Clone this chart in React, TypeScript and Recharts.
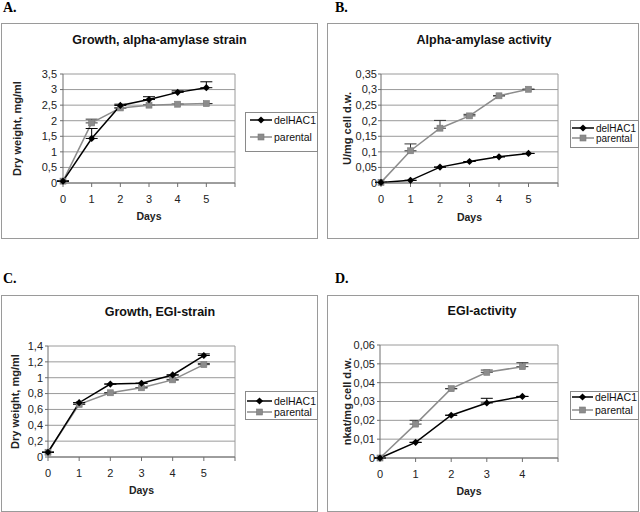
import { LineChart, Line, XAxis, YAxis, CartesianGrid, ReferenceLine, ErrorBar } from "recharts"

// days sampled
const days = [0, 1, 2, 3, 4, 5]
const daysEgi = [0, 1, 2, 3, 4]

// A. Growth, alpha-amylase strain (dry weight, mg/ml)
const growthAmyDel = [0.06, 1.43, 2.49, 2.68, 2.91, 3.06]
const growthAmyDelErr = [0, 0.32, 0.04, 0.09, 0.05, 0.19]
const growthAmyPar = [0.06, 1.93, 2.41, 2.5, 2.53, 2.55]
const growthAmyParErr = [0, 0.12, 0, 0, 0, 0]

// B. Alpha-amylase activity (U/mg cell d.w.)
const amyActDel = [0.002, 0.0085, 0.051, 0.069, 0.084, 0.095]
const amyActDelErr = [0, 0, 0, 0, 0, 0]
const amyActPar = [0.002, 0.1035, 0.176, 0.2155, 0.28, 0.301]
const amyActParErr = [0, 0.022, 0.025, 0.005, 0, 0]

// C. Growth, EGI-strain (dry weight, mg/ml)
const growthEgiDel = [0.06, 0.685, 0.92, 0.93, 1.035, 1.28]
const growthEgiDelErr = [0, 0, 0, 0, 0, 0.02]
const growthEgiPar = [0.06, 0.664, 0.81, 0.873, 0.973, 1.165]
const growthEgiParErr = [0, 0, 0, 0, 0, 0.015]

// D. EGI-activity (nkat/mg cell d.w.)
const egiActDel = [0, 0.0083, 0.0227, 0.0292, 0.0327]
const egiActDelErr = [0, 0, 0, 0.0025, 0]
const egiActPar = [0, 0.018, 0.0368, 0.0455, 0.0485]
const egiActParErr = [0, 0.002, 0, 0.0012, 0.0021]

// tick labels
const ticksA = [0, 0.5, 1, 1.5, 2, 2.5, 3, 3.5]
const ticksB = [0, 0.05, 0.1, 0.15, 0.2, 0.25, 0.3, 0.35]
const ticksC = [0, 0.2, 0.4, 0.6, 0.8, 1, 1.2, 1.4]
const ticksD = [0, 0.01, 0.02, 0.03, 0.04, 0.05, 0.06]
const seriesNames = ["delHAC1", "parental"]

const FONT = "'Liberation Sans', Arial, sans-serif"
const GRID = "#9a9a9a"
const AXIS = "#6e6e6e"
const DEL = "#000000"
const PAR = "#8c8c8c"

const build = (xs: number[], del: number[], delErr: number[], par: number[], parErr: number[]) =>
  xs.map((d, i) => ({ day: d, del: del[i], delErr: [0, delErr[i]], par: par[i], parErr: [0, parErr[i]] }))

const comma = (v: number) => String(v).replace(".", ",")

const diamond = (p: any) => {
  if (p.cx == null || p.cy == null) return <g key={p.index} />
  const r = 3.6
  return (
    <path
      key={p.index}
      d={`M${p.cx},${p.cy - r}L${p.cx + r},${p.cy}L${p.cx},${p.cy + r}L${p.cx - r},${p.cy}Z`}
      fill={DEL}
    />
  )
}

const square = (p: any) => {
  if (p.cx == null || p.cy == null) return <g key={p.index} />
  return <rect key={p.index} x={p.cx - 3} y={p.cy - 3} width={6} height={6} fill={PAR} stroke="#7a7a7a" strokeWidth={0.6} />
}

type Box = { x: number; y: number; w: number; h: number }
type Plot = { x0: number; y0: number; x1: number; y1: number }

type PanelProps = {
  data: any[]
  frame: Box
  plot: Plot
  xMax: number
  yTicks: number[]
  yLabel: string
  yLabelOffset: number
  axisH: number
  tickMargin: number
}

function Panel({ data, frame, plot, xMax, yTicks, yLabel, yLabelOffset, axisH, tickMargin }: PanelProps) {
  const xTicks = Array.from({ length: xMax + 1 }, (_, i) => i)
  return (
    <div style={{ position: "absolute", left: frame.x, top: frame.y }}>
      <LineChart
        width={frame.w}
        height={frame.h}
        data={data}
        margin={{
          top: plot.y0 - frame.y,
          left: 0,
          right: frame.x + frame.w - plot.x1,
          bottom: frame.y + frame.h - plot.y1 - axisH,
        }}
      >
        <CartesianGrid vertical={false} stroke={GRID} />
        <XAxis
          dataKey="day"
          type="number"
          domain={[0, xMax]}
          ticks={xTicks}
          tickFormatter={(v: number) => (v === xMax ? "" : String(v))}
          height={axisH}
          stroke={AXIS}
          tickSize={4}
          tickMargin={8}
          tick={{ fill: "#222", fontSize: 11, fontFamily: FONT }}
          label={{
            value: "Days",
            position: "insideBottom",
            offset: 0,
            style: { fontFamily: FONT, fontSize: 10.5, fontWeight: "bold", fill: "#222" },
          }}
        />
        <YAxis
          type="number"
          domain={[0, yTicks[yTicks.length - 1]]}
          ticks={yTicks}
          interval={0}
          tickFormatter={comma}
          width={plot.x0 - frame.x}
          stroke={AXIS}
          tickSize={3}
          tickMargin={tickMargin}
          tick={{ fill: "#222", fontSize: 11, fontFamily: FONT }}
          label={{
            value: yLabel,
            angle: -90,
            position: "insideLeft",
            offset: yLabelOffset,
            style: { textAnchor: "middle", fontFamily: FONT, fontSize: 11, fontWeight: "bold", fill: "#222" },
          }}
        />
        <ReferenceLine x={xMax} stroke={GRID} />
        <Line type="linear" dataKey="par" stroke={PAR} strokeWidth={1.5} dot={square} isAnimationActive={false}>
          <ErrorBar dataKey="parErr" width={6} stroke="#333" strokeWidth={1} direction="y" isAnimationActive={false} />
        </Line>
        <Line type="linear" dataKey="del" stroke={DEL} strokeWidth={1.5} dot={diamond} isAnimationActive={false}>
          <ErrorBar dataKey="delErr" width={6} stroke="#000" strokeWidth={1} direction="y" isAnimationActive={false} />
        </Line>
      </LineChart>
    </div>
  )
}

type LegendProps = { box: Box; rows: number[]; x0: number; x1: number; tx: number; fs: number }

function LegendBox({ box, rows, x0, x1, tx, fs }: LegendProps) {
  const mx = (x0 + x1) / 2
  return (
    <g>
      <rect x={box.x + 0.5} y={box.y + 0.5} width={box.w} height={box.h} fill="#fff" stroke="#8a8a8a" />
      <line x1={x0} x2={x1} y1={rows[0]} y2={rows[0]} stroke={DEL} strokeWidth={1.5} />
      {diamond({ cx: mx, cy: rows[0], index: "l0" })}
      <line x1={x0} x2={x1} y1={rows[1]} y2={rows[1]} stroke={PAR} strokeWidth={1.5} />
      {square({ cx: mx, cy: rows[1], index: "l1" })}
      {seriesNames.map((n, i) => (
        <text key={n} x={tx} y={rows[i] + fs * 0.36} fontSize={fs} fontFamily={FONT} fill="#111">
          {n}
        </text>
      ))}
    </g>
  )
}

const titleStyle = { fontFamily: FONT, fontSize: 12.5, fontWeight: "bold" as const, fill: "#111" }
const letterStyle = { fontFamily: "'Liberation Serif', 'Times New Roman', serif", fontSize: 14, fontWeight: "bold" as const, fill: "#000" }

export default function App() {
  const frameA = { x: 1, y: 23, w: 317, h: 216 }
  const frameB = { x: 327, y: 23, w: 312, h: 216 }
  const frameC = { x: 1, y: 295, w: 317, h: 217 }
  const frameD = { x: 327, y: 295, w: 312, h: 217 }

  return (
    <div style={{ position: "absolute", left: 0, top: 0, width: 640, height: 512, overflow: "hidden", background: "#fff" }}>
      <svg width={640} height={512} style={{ position: "absolute", left: 0, top: 0 }}>
        {[frameA, frameB, frameC, frameD].map((f, i) => (
          <rect key={i} x={f.x + 0.5} y={f.y + 0.5} width={f.w - 1} height={f.h - 1} fill="#fff" stroke="#9a9a9a" />
        ))}
      </svg>

      <Panel
        data={build(days, growthAmyDel, growthAmyDelErr, growthAmyPar, growthAmyParErr)}
        frame={frameA}
        plot={{ x0: 63, y0: 74, x1: 235, y1: 183 }}
        xMax={6}
        yTicks={ticksA}
        yLabel="Dry weight, mg/ml"
        yLabelOffset={16.5}
        axisH={37}
        tickMargin={3}
      />
      <Panel
        data={build(days, amyActDel, amyActDelErr, amyActPar, amyActParErr)}
        frame={frameB}
        plot={{ x0: 381, y0: 74, x1: 558, y1: 183 }}
        xMax={6}
        yTicks={ticksB}
        yLabel="U/mg cell d.w."
        yLabelOffset={20}
        axisH={38}
        tickMargin={1}
      />
      <Panel
        data={build(days, growthEgiDel, growthEgiDelErr, growthEgiPar, growthEgiParErr)}
        frame={frameC}
        plot={{ x0: 48, y0: 346, x1: 235, y1: 457 }}
        xMax={6}
        yTicks={ticksC}
        yLabel="Dry weight, mg/ml"
        yLabelOffset={14}
        axisH={37}
        tickMargin={2}
      />
      <Panel
        data={build(daysEgi, egiActDel, egiActDelErr, egiActPar, egiActParErr)}
        frame={frameD}
        plot={{ x0: 380, y0: 345, x1: 558, y1: 458 }}
        xMax={5}
        yTicks={ticksD}
        yLabel="nkat/mg cell d.w."
        yLabelOffset={20}
        axisH={37}
        tickMargin={2}
      />

      <svg width={640} height={512} style={{ position: "absolute", left: 0, top: 0, pointerEvents: "none" }}>
        <text x={3} y={12} {...letterStyle}>A.</text>
        <text x={335} y={12} {...letterStyle}>B.</text>
        <text x={3} y={283} {...letterStyle}>C.</text>
        <text x={335} y={283} {...letterStyle}>D.</text>

        <text x={159.5} y={44} textAnchor="middle" {...titleStyle}>Growth, alpha-amylase strain</text>
        <text x={484} y={44} textAnchor="middle" {...titleStyle}>Alpha-amylase activity</text>
        <text x={160} y={316} textAnchor="middle" {...titleStyle}>Growth, EGI-strain</text>
        <text x={482} y={315} textAnchor="middle" {...titleStyle}>EGI-activity</text>

        <LegendBox box={{ x: 245, y: 112, w: 72, h: 39 }} rows={[120, 137]} x0={250} x1={272} tx={274} fs={10.5} />
        <LegendBox box={{ x: 570, y: 120, w: 68, h: 27 }} rows={[128, 138]} x0={572} x1={594} tx={596} fs={10} />
        <LegendBox box={{ x: 245, y: 391, w: 72, h: 28 }} rows={[401, 412]} x0={247} x1={272} tx={274} fs={10.5} />
        <LegendBox box={{ x: 570, y: 391, w: 68, h: 28 }} rows={[397, 410]} x0={572} x1={593} tx={595} fs={10.5} />
      </svg>
    </div>
  )
}
